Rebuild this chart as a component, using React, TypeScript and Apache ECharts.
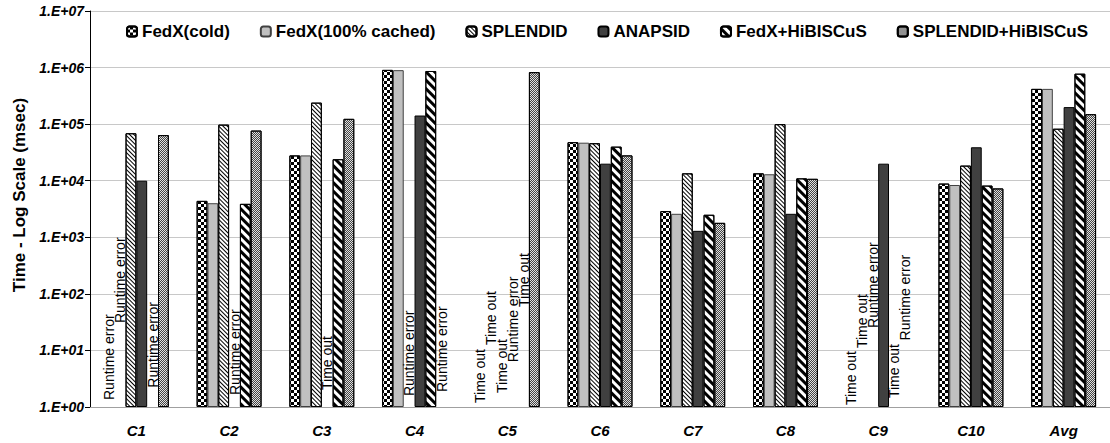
import React, { useEffect, useRef } from "react";
import * as echarts from "echarts";

const categories = ["C1", "C2", "C3", "C4", "C5", "C6", "C7", "C8", "C9", "C10", "Avg"];
const seriesNames = [
  "FedX(cold)",
  "FedX(100% cached)",
  "SPLENDID",
  "ANAPSID",
  "FedX+HiBISCuS",
  "SPLENDID+HiBISCuS",
];
const fedxCold = [null, 4400, 28000, 910000, null, 48000, 2900, 13500, null, 8900, 420000];
const fedxCached = [null, 4000, 28000, 900000, null, 47000, 2600, 13000, null, 8400, 420000];
const splendid = [69000, 98000, 240000, null, null, 46000, 13500, 100000, null, 18500, 83000];
const anapsid = [10000, null, null, 142000, null, 20000, 1300, 2600, 20000, 39000, 200000];
const fedxHib = [null, 3900, 24000, 870000, null, 40000, 2500, 11000, null, 8200, 780000];
const splendidHib = [64000, 77000, 124000, null, 830000, 28000, 1800, 10800, null, 7300, 150000];
const seriesValues = [fedxCold, fedxCached, splendid, anapsid, fedxHib, splendidHib];

// [series index, category index, note text, level where the note starts]
const notes: [number, number, string, number][] = [
  [0, 0, "Runtime error", 1.33],
  [1, 0, "Runtime error", 30.5],
  [4, 0, "Runtime error", 2.2],
  [3, 1, "Runtime error", 1.63],
  [3, 2, "Time out", 2.0],
  [2, 3, "Runtime error", 1.56],
  [5, 3, "Runtime error", 1.84],
  [0, 4, "Time out", 1.18],
  [1, 4, "Time out", 12.5],
  [2, 4, "Time out", 1.77],
  [3, 4, "Runtime error", 6.2],
  [4, 4, "Time out", 58.6],
  [0, 8, "Time out", 1.08],
  [1, 8, "Time out", 11],
  [2, 8, "Runtime error", 25],
  [4, 8, "Time out", 1.44],
  [5, 8, "Runtime error", 15],
];

const FONT = "Liberation Sans";

const styles: any[] = [
  {
    color: "#ffffff",
    borderColor: "#000",
    decal: { symbol: "rect", symbolSize: 1, color: "#000", dashArrayX: [[3, 3], [0, 3, 3, 0]], dashArrayY: [3, 0], rotation: 0 },
  },
  { color: "#c0c0c0", borderColor: "#404040" },
  {
    color: "#ffffff",
    borderColor: "#000",
    decal: { symbol: "rect", symbolSize: 1, color: "#000", dashArrayX: [1, 0], dashArrayY: [1, 2], rotation: Math.PI / 4 },
  },
  { color: "#404040", borderColor: "#000" },
  {
    color: "#ffffff",
    borderColor: "#000",
    decal: { symbol: "rect", symbolSize: 1, color: "#000", dashArrayX: [1, 0], dashArrayY: [3, 3], rotation: Math.PI / 4 },
  },
  {
    color: "#e0e0e0",
    borderColor: "#000",
    decal: { symbol: "rect", symbolSize: 1, color: "#444", dashArrayX: [[1, 1], [0, 1, 1, 0]], dashArrayY: [1, 0], rotation: 0 },
  },
];

export default function App() {
  const ref = useRef<HTMLDivElement>(null);
  useEffect(() => {
    if (!ref.current) return;
    const chart = echarts.init(ref.current, null, { renderer: "svg" });
    const series = seriesNames.map((name, si) => {
      const data: any[] = seriesValues[si].map((v) => (v == null ? null : v));
      notes.forEach(([s, c, text, level]) => {
        if (s !== si) return;
        data[c] = {
          value: level,
          itemStyle: { color: "rgba(0,0,0,0)", borderWidth: 0, decal: "none" },
          label: {
            show: true,
            position: "top",
            distance: 0,
            rotate: 90,
            align: "left",
            verticalAlign: "middle",
            formatter: text,
            color: "#000",
            fontFamily: FONT,
            fontSize: 14,
          },
        };
      });
      return {
        name,
        type: "bar",
        data,
        barGap: "0%",
        barCategoryGap: "30%",
        itemStyle: { ...styles[si], borderWidth: 1 },
      };
    });
    chart.setOption({
      animation: false,
      textStyle: { fontFamily: FONT },
      grid: { left: 90, right: -17, top: 11, bottom: 36 },
      legend: {
        top: 18,
        left: 121,
        itemWidth: 10,
        itemHeight: 10,
        itemGap: 30,
        textStyle: { fontFamily: FONT, fontWeight: "bold", fontSize: 17, color: "#000" },
        data: seriesNames,
      },
      xAxis: {
        type: "category",
        data: categories,
        axisLine: { lineStyle: { color: "#a0a0a0", width: 1 } },
        axisTick: { show: false },
        axisLabel: {
          margin: 16,
          fontFamily: FONT,
          fontWeight: "bold",
          fontStyle: "italic",
          fontSize: 15,
          color: "#000",
        },
      },
      yAxis: {
        type: "log",
        logBase: 10,
        min: 1,
        max: 10000000,
        name: "Time - Log Scale (msec)",
        nameLocation: "middle",
        nameGap: 61,
        nameTextStyle: {
          fontFamily: FONT,
          fontWeight: "bold",
          fontSize: 17,
          color: "#000",
          padding: [0, 0, 0, 28],
        },
        axisLine: { show: true, lineStyle: { color: "#000", width: 1 } },
        axisTick: { show: true, inside: false, length: 5, lineStyle: { color: "#000" } },
        splitLine: { show: true, lineStyle: { color: "#c8c8c8", width: 1 } },
        axisLabel: {
          margin: 6,
          fontFamily: FONT,
          fontWeight: "bold",
          fontStyle: "italic",
          fontSize: 14,
          color: "#000",
          formatter: (v: number) => {
            const e = Math.round(Math.log10(v));
            return "1.E+" + (e < 10 ? "0" + e : String(e));
          },
        },
      },
      series,
    });
    return () => chart.dispose();
  }, []);
  return (
    <div
      ref={ref}
      style={{ position: "absolute", left: 0, top: 0, width: 1110, height: 443, background: "#fff" }}
    />
  );
}
